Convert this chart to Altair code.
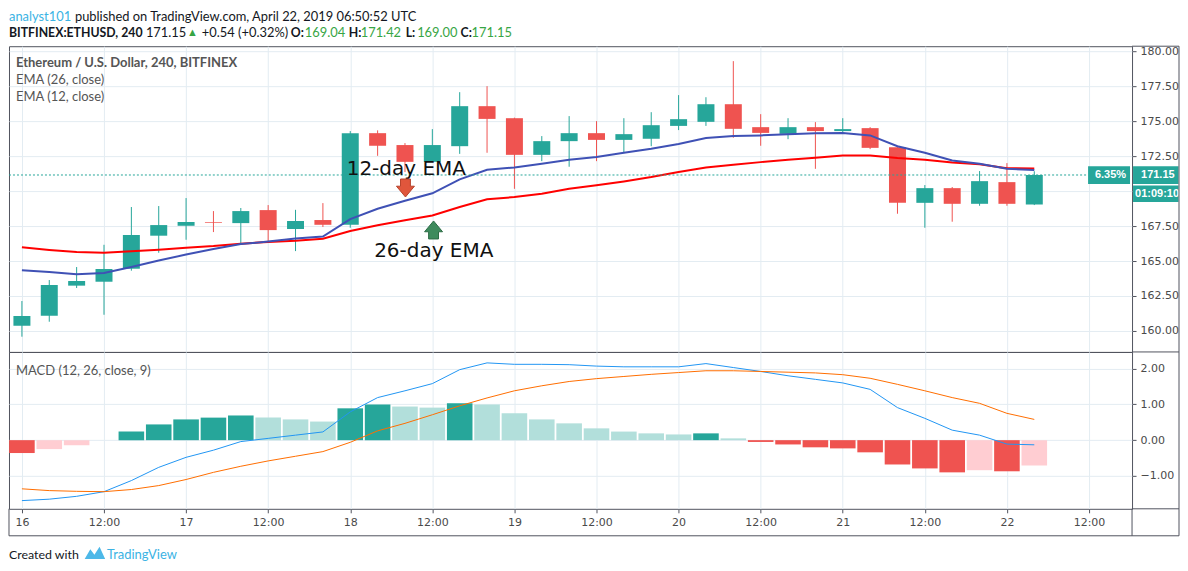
import altair as alt
import pandas as pd

# ---------------- data ----------------
start = pd.Timestamp("2019-04-16 00:00")
n_bars = 38
bar_time = [start + pd.Timedelta(hours=4 * i) for i in range(n_bars)]

opens = [160.38, 161.09, 163.24, 163.52, 164.45, 166.81, 167.52, 167.79, 167.71, 168.64,
         167.29, 167.93, 167.59, 174.14, 173.29, 172.09, 173.21, 176.07, 175.21, 172.59,
         173.57, 174.14, 173.66, 173.74, 174.66, 174.95, 176.21, 174.57, 174.09, 174.57,
         174.29, 174.50, 173.14, 169.16, 170.21, 169.09, 170.64, 169.04]
highs = [162.14, 163.64, 164.57, 166.16, 168.86, 168.93, 169.50, 168.57, 168.79, 169.00,
         168.66, 169.14, 174.29, 174.34, 173.43, 174.43, 177.07, 177.50, 175.25, 173.93,
         175.36, 175.00, 175.21, 175.64, 176.86, 176.71, 179.29, 175.50, 175.21, 174.93,
         175.21, 174.57, 173.14, 170.43, 170.29, 171.43, 172.00, 171.42]
lows = [159.59, 160.66, 163.07, 161.16, 164.31, 165.59, 166.52, 167.07, 166.16, 166.36,
        165.71, 167.43, 167.38, 172.52, 171.36, 172.07, 172.66, 172.74, 170.16, 172.14,
        171.74, 172.14, 172.71, 173.21, 174.36, 174.66, 173.81, 173.24, 173.71, 171.59,
        174.21, 173.00, 168.38, 167.38, 167.81, 168.95, 168.95, 169.00]
closes = [161.07, 163.29, 163.57, 164.43, 166.86, 167.57, 167.79, 167.74, 168.57, 167.21,
          167.86, 167.59, 174.14, 173.24, 172.09, 173.29, 176.07, 175.16, 172.59, 173.57,
          174.14, 173.66, 174.07, 174.71, 175.14, 176.21, 174.45, 174.16, 174.57, 174.29,
          174.43, 173.09, 169.16, 170.21, 169.09, 170.71, 169.09, 171.15]
ema12 = [164.34, 164.21, 164.05, 164.14, 164.57, 165.04, 165.46, 165.86, 166.21, 166.39,
         166.61, 166.75, 168.00, 168.74, 169.31, 169.84, 170.84, 171.52, 171.69, 171.95,
         172.24, 172.43, 172.74, 173.02, 173.36, 173.79, 173.93, 173.98, 174.07, 174.14,
         174.16, 173.98, 173.21, 172.74, 172.19, 171.95, 171.59, 171.50]
ema26 = [165.98, 165.79, 165.64, 165.59, 165.69, 165.81, 165.95, 166.07, 166.24, 166.36,
         166.45, 166.59, 167.14, 167.55, 167.91, 168.26, 168.86, 169.41, 169.57, 169.81,
         170.16, 170.41, 170.69, 171.00, 171.36, 171.69, 171.88, 172.07, 172.24, 172.38,
         172.55, 172.55, 172.36, 172.24, 172.05, 171.91, 171.64, 171.62]
macd_line = [-1.69, -1.65, -1.57, -1.44, -1.13, -0.76, -0.48, -0.28, -0.04, 0.05,
             0.14, 0.23, 0.79, 1.19, 1.38, 1.58, 1.97, 2.16, 2.12, 2.12,
             2.11, 2.07, 2.05, 2.05, 2.05, 2.14, 2.03, 1.92, 1.80, 1.70,
             1.60, 1.42, 0.91, 0.61, 0.28, 0.14, -0.11, -0.13]
signal_line = [-1.36, -1.41, -1.43, -1.44, -1.38, -1.27, -1.10, -0.90, -0.73, -0.58,
               -0.45, -0.32, -0.06, 0.26, 0.47, 0.71, 0.96, 1.18, 1.38, 1.52,
               1.64, 1.72, 1.78, 1.84, 1.89, 1.94, 1.94, 1.92, 1.90, 1.88,
               1.83, 1.73, 1.56, 1.38, 1.19, 1.03, 0.75, 0.58]
macd_hist = [-0.36, -0.25, -0.14, 0.00, 0.24, 0.44, 0.58, 0.63, 0.69, 0.63,
             0.58, 0.52, 0.89, 1.00, 0.94, 0.91, 1.03, 1.00, 0.75, 0.58,
             0.47, 0.33, 0.24, 0.19, 0.16, 0.19, 0.05, -0.05, -0.12, -0.20,
             -0.23, -0.34, -0.68, -0.79, -0.90, -0.84, -0.87, -0.71]

x_tick_hours = [0, 12, 24, 36, 48, 60, 72, 84, 96, 108, 120, 132, 144, 156]
x_tick_labels = ["16", "12:00", "17", "12:00", "18", "12:00", "19", "12:00",
                 "20", "12:00", "21", "12:00", "22", "12:00"]
price_ticks = [160.0, 162.5, 165.0, 167.5, 170.0, 172.5, 175.0, 177.5, 180.0]
macd_ticks = [-1.0, 0.0, 1.0, 2.0]
last_close = 171.15

# ---------------- tables ----------------
hours = [(t - start).total_seconds() / 3600 for t in bar_time]
df = pd.DataFrame({"t": hours, "open": opens, "high": highs, "low": lows, "close": closes,
                   "ema12": ema12, "ema26": ema26, "macd": macd_line, "signal": signal_line,
                   "hist": macd_hist})
df["dir"] = ["up" if c >= o else "down" for o, c in zip(opens, closes)]
hcol = []
for i, v in enumerate(macd_hist):
    prev = macd_hist[i - 1] if i > 0 else None
    if v >= 0:
        hcol.append("pos_up" if (prev is None or v >= prev) else "pos_down")
    else:
        hcol.append("neg_up" if (prev is not None and v > prev) else "neg_down")
df["hcol"] = hcol
one = pd.DataFrame({"k": [0]})

# ---------------- style ----------------
W = 1124
H_PRICE = 306
H_MACD = 157
RIGHT = 1171
TEAL = "#26A69A"
RED = "#EF5350"
GRID = "#E3ECF2"
FRAME = "#50535E"
AXIS_FONT = "DejaVu Sans"
TAG_FONT = "Liberation Sans"
TXT_FONT = "Lato"
LABEL_COL = "#4A4A4A"

x_scale_p = alt.Scale(domain=[-1.158, 161.56], nice=False, zero=False)
x_scale_m = alt.Scale(domain=[-1.158, 161.56], nice=False, zero=False)
y_scale_p = alt.Scale(domain=[158.5, 180.357], nice=False, zero=False)
y_scale_m = alt.Scale(domain=[-1.919, 2.466], nice=False, zero=False)

label_expr = "[" + ",".join("'%s'" % s for s in x_tick_labels) + "][round(datum.value/12)]"
price_label_expr = "abs(datum.value - %s) < 0.01 ? '' : format(datum.value, '.2f')" % 170.0

x_axis_p = alt.Axis(values=x_tick_hours, grid=True, gridColor=GRID, labels=False, ticks=False,
                    domain=False, title=None)
x_axis_m = alt.Axis(values=x_tick_hours, grid=True, gridColor=GRID, labelExpr=label_expr,
                    ticks=True, tickSize=4, tickColor=FRAME, domain=False, title=None,
                    labelFont=AXIS_FONT, labelFontSize=11, labelColor=LABEL_COL, labelPadding=4,
                    labelFlush=False)
y_axis_p = alt.Axis(orient="right", values=price_ticks, labelExpr=price_label_expr, grid=True,
                    gridColor=GRID, tickSize=4, tickColor=FRAME, domain=False, title=None,
                    labelFont=AXIS_FONT, labelFontSize=11, labelColor=LABEL_COL, labelPadding=4)
y_axis_m = alt.Axis(orient="right", values=macd_ticks, format=".2f", grid=True, gridColor=GRID,
                    tickSize=4, tickColor=FRAME, domain=False, title=None, labelFont=AXIS_FONT,
                    labelFontSize=11, labelColor=LABEL_COL, labelPadding=4)


def px(field_or_datum, pane="p"):
    sc, ax = (x_scale_p, x_axis_p) if pane == "p" else (x_scale_m, x_axis_m)
    if isinstance(field_or_datum, str):
        return alt.X(field_or_datum, type="quantitative", scale=sc, axis=ax)
    return alt.X(datum=field_or_datum, type="quantitative", scale=sc, axis=ax)


def py(field_or_datum, pane="p"):
    sc, ax = (y_scale_p, y_axis_p) if pane == "p" else (y_scale_m, y_axis_m)
    if isinstance(field_or_datum, str):
        return alt.Y(field_or_datum, type="quantitative", scale=sc, axis=ax)
    return alt.Y(datum=field_or_datum, type="quantitative", scale=sc, axis=ax)


def ptext(txt, x, y, size=13, color="#131722", weight="normal", font=TXT_FONT, align="left"):
    return alt.Chart(one).mark_text(text=txt, fontSize=size, color=color, fontWeight=weight,
                                    font=font, align=align, baseline="middle").encode(
        x=alt.value(x), y=alt.value(y))


def prule(x, y, x2=None, y2=None, color=FRAME, w=1):
    enc = dict(x=alt.value(x), y=alt.value(y))
    if x2 is not None:
        enc["x2"] = alt.value(x2)
    if y2 is not None:
        enc["y2"] = alt.value(y2)
    return alt.Chart(one).mark_rule(color=color, strokeWidth=w).encode(**enc)


dir_color = alt.Color("dir:N", scale=alt.Scale(domain=["up", "down"], range=[TEAL, RED]), legend=None)

# ---------------- price pane ----------------
base = alt.Chart(df)
wicks = base.mark_rule(strokeWidth=1).encode(x=px("t"), y=py("low"), y2="high", color=dir_color)
bodies = base.mark_bar(size=17).encode(x=px("t"), y=py("open"), y2="close", color=dir_color)
line12 = base.mark_line(color="#3F51B5", strokeWidth=2).encode(x=px("t"), y=py("ema12"))
line26 = base.mark_line(color="#FF0000", strokeWidth=2).encode(x=px("t"), y=py("ema26"))
last_rule = alt.Chart(one).mark_rule(color=TEAL, strokeWidth=1, strokeDash=[2, 2]).encode(
    x=alt.value(0), x2=alt.value(1080), y=py(last_close))

# right-side price labels
pct_box = alt.Chart(one).mark_rect(color=TEAL).encode(
    x=alt.value(1080), x2=alt.value(1122), y=py(last_close + 0.62), y2=alt.Y2(datum=last_close - 0.64))
pct_txt = alt.Chart(one).mark_text(text="6.35%", color="white", fontWeight="bold", font=TAG_FONT,
                                   fontSize=11, align="right", baseline="middle").encode(
    x=alt.value(1118), y=py(last_close - 0.01))
price_box = alt.Chart(one).mark_rect(color=TEAL).encode(
    x=alt.value(1125), x2=alt.value(RIGHT - 0.5), y=py(last_close + 0.62), y2=alt.Y2(datum=last_close - 0.64))
price_txt = alt.Chart(one).mark_text(text="171.15", color="white", fontWeight="bold", font=TAG_FONT,
                                     fontSize=11, align="left", baseline="middle").encode(
    x=alt.value(1133), y=py(last_close - 0.01))
timer_box = alt.Chart(one).mark_rect(color=TEAL).encode(
    x=alt.value(1125), x2=alt.value(RIGHT - 0.5), y=py(last_close - 0.75), y2=alt.Y2(datum=last_close - 1.93))
timer_txt = alt.Chart(one).mark_text(text="01:09:10", color="white", fontWeight="bold", font=TAG_FONT,
                                     fontSize=11, align="left", baseline="middle").encode(
    x=alt.value(1127), y=py(last_close - 1.34))

# annotations (in data coordinates)
ann12 = alt.Chart(one).mark_text(text="12-day EMA", font="DejaVu Sans", fontSize=20, color="#111111",
                                 align="left", baseline="middle").encode(x=px(47.48), y=py(171.57))
ann26 = alt.Chart(one).mark_text(text="26-day EMA", font="DejaVu Sans", fontSize=20, color="#111111",
                                 align="left", baseline="middle").encode(x=px(51.49), y=py(165.70))
down_arrow = "M-0.55,-1 L0.55,-1 L0.55,-0.2 L1,-0.2 L0,1 L-1,-0.2 L-0.55,-0.2 Z"
up_arrow = "M-0.55,1 L0.55,1 L0.55,0.2 L1,0.2 L0,-1 L-1,0.2 L-0.55,0.2 Z"
arr_red = alt.Chart(one).mark_point(shape=down_arrow, filled=True, size=324, fill="#E0563C",
                                    stroke="#B5432C", strokeWidth=1, opacity=1).encode(
    x=px(56.07), y=py(170.22))
arr_green = alt.Chart(one).mark_point(shape=up_arrow, filled=True, size=324, fill="#3E8B5D",
                                      stroke="#2C6B45", strokeWidth=1, opacity=1).encode(
    x=px(60.18), y=py(167.22))

# pane legend
leg1 = ptext("Ethereum / U.S. Dollar, 240, BITFINEX", 7, 17, size=13, color="#555555", weight="bold")
leg2 = ptext("EMA (26, close)", 7, 34, size=13, color="#555555")
leg3 = ptext("EMA (12, close)", 7, 51, size=13, color="#555555")

# header (above the frame)
GREEN = "#37A544"
HY1, HY2 = -29, -13
HS, HB = 12.9, 12.3
h1a = ptext("analyst101", 0, HY1, size=HS, color="#3BB3E4")
h1b = ptext("published on TradingView.com, April 22, 2019 06:50:52 UTC", 66, HY1, size=HS, color="#131722")
h2 = [
    ptext("BITFINEX:ETHUSD, 240", 0, HY2, size=HB, weight="bold"),
    ptext("171.15", 137, HY2, size=HS),
    ptext("▲", 183.5, HY2, size=11, color=GREEN, align="center"),
    ptext("+0.54 (+0.32%)", 193, HY2, size=HS),
    ptext("O:", 282, HY2, size=HB, weight="bold"),
    ptext("169.04", 296, HY2, size=HS, color=GREEN),
    ptext("H:", 340, HY2, size=HB, weight="bold"),
    ptext("171.42", 352, HY2, size=HS, color=GREEN),
    ptext("L:", 397, HY2, size=HB, weight="bold"),
    ptext("169.00", 408.5, HY2, size=HS, color=GREEN),
    ptext("C:", 452, HY2, size=HB, weight="bold"),
    ptext("171.15", 463, HY2, size=HS, color=GREEN),
]

frame_p = [prule(W, 0, x2=RIGHT), prule(RIGHT, 0, y2=H_PRICE)]

price = alt.layer(
    wicks, bodies, line26, line12, last_rule, ann12, ann26, arr_red, arr_green,
    pct_box, pct_txt, price_box, price_txt, timer_box, timer_txt,
    leg1, leg2, leg3, h1a, h1b, *h2, *frame_p,
).properties(width=W, height=H_PRICE)

# ---------------- MACD pane ----------------
hist_color = alt.Color("hcol:N", scale=alt.Scale(domain=["pos_up", "pos_down", "neg_up", "neg_down"],
                                                 range=[TEAL, "#B2DFDB", "#FFCDD2", RED]), legend=None)
mbase = alt.Chart(df)
hist = mbase.mark_bar(size=25.6).encode(x=px("t", "m"), y=py("hist", "m"), y2=alt.Y2(datum=0),
                                        color=hist_color)
mline = mbase.mark_line(color="#2196F3", strokeWidth=1).encode(x=px("t", "m"), y=py("macd", "m"))
sline = mbase.mark_line(color="#FF6D00", strokeWidth=1).encode(x=px("t", "m"), y=py("signal", "m"))
mleg = ptext("MACD (12, 26, close, 9)", 7, 19, size=13, color="#555555")

BOT = 184
frame_m = [
    prule(W, 0, x2=RIGHT), prule(W, H_MACD, x2=RIGHT), prule(RIGHT, 0, y2=BOT),
    prule(0, BOT, x2=RIGHT), prule(0, H_MACD, y2=BOT), prule(W, H_MACD, y2=BOT),
]
foot1 = ptext("Created with", 0, 203, size=12.4, color="#131722")
logo = alt.Chart(one).mark_point(
    shape="M-1,0.6 L-0.45,-0.35 L-0.05,0.2 L0.45,-0.6 L1,0.6 Z", filled=True, size=420,
    fill="#4DB8E8", opacity=1).encode(x=alt.value(86), y=alt.value(201))
foot2 = ptext("TradingView", 98, 203, size=13, color="#3BB3E4")

macd = alt.layer(hist, mline, sline, mleg, *frame_m, foot1, logo, foot2).properties(
    width=W, height=H_MACD)

chart = alt.vconcat(price, macd, spacing=0, bounds="flush").resolve_scale(
    color="independent"
).properties(
    padding={"top": 2, "left": 0, "right": 0, "bottom": 0}, background="white"
).configure_view(stroke=FRAME, strokeWidth=1)

chart.save("out.html", embed_options={"renderer": "svg", "actions": False})
